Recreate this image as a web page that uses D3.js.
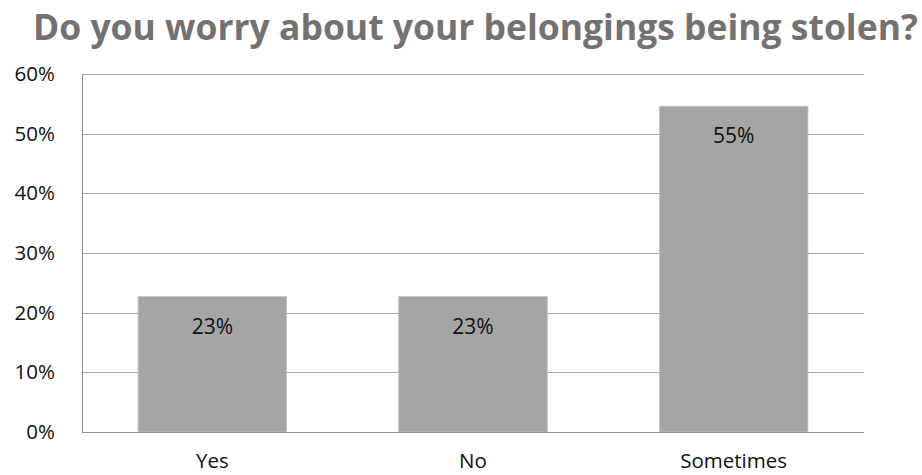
<!DOCTYPE html>
<html><head><meta charset="utf-8">
<script src="https://cdn.jsdelivr.net/npm/d3@7"></script>
<style>body{margin:0;background:#fff}svg{display:block}text{font-family:"Open Sans",sans-serif}</style>
</head><body>
<svg id="c" width="922" height="475"></svg>
<script>
const title = "Do you worry about your belongings being stolen?";
const categories = ["Yes", "No", "Sometimes"];
const values = [0.227, 0.227, 0.546];
const valueLabels = ["23%", "23%", "55%"];
const yTicks = [0, 0.1, 0.2, 0.3, 0.4, 0.5, 0.6];

const svg = d3.select("#c");
const m = {left: 82, right: 864, top: 74, bottom: 432};
const x = d3.scaleBand().domain(categories).range([m.left, m.right]).paddingInner(0.43).paddingOuter(0.215);
const y = d3.scaleLinear().domain([0, 0.6]).range([m.bottom, m.top]);

// gridlines
svg.append("g").selectAll("line").data(yTicks.slice(1)).join("line")
  .attr("x1", m.left).attr("x2", m.right)
  .attr("y1", d => Math.round(y(d)) + 0.5).attr("y2", d => Math.round(y(d)) + 0.5)
  .attr("stroke", "#a6a6a6").attr("stroke-width", 1);

// bars
svg.append("g").selectAll("rect").data(values).join("rect")
  .attr("x", (d, i) => x(categories[i]))
  .attr("y", d => y(d))
  .attr("width", x.bandwidth())
  .attr("height", d => y(0) - y(d))
  .attr("fill", "#a5a5a5")
  .attr("stroke", "#c4c4c4").attr("stroke-width", 0.8);

// value labels
svg.append("g").selectAll("text").data(values).join("text")
  .attr("x", (d, i) => x(categories[i]) + x.bandwidth() / 2)
  .attr("y", d => y(d) + 37)
  .attr("text-anchor", "middle")
  .attr("font-size", 21).attr("fill", "#111")
  .text((d, i) => valueLabels[i]);

// axes lines
svg.append("line").attr("x1", m.left + 0.5).attr("x2", m.left + 0.5).attr("y1", m.top).attr("y2", m.bottom)
  .attr("stroke", "#8c8c8c");
svg.append("line").attr("x1", m.left).attr("x2", m.right).attr("y1", m.bottom + 0.5).attr("y2", m.bottom + 0.5)
  .attr("stroke", "#8c8c8c");

// y tick labels
svg.append("g").selectAll("text").data(yTicks).join("text")
  .attr("x", 55).attr("y", d => y(d) + 7)
  .attr("text-anchor", "end").attr("font-size", 20.5).attr("fill", "#111")
  .text(d3.format(".0%"));

// x labels
svg.append("g").selectAll("text").data(categories).join("text")
  .attr("x", d => x(d) + x.bandwidth() / 2).attr("y", 468)
  .attr("text-anchor", "middle").attr("font-size", 20.5).attr("fill", "#111")
  .text(d => d);

// title
const t = svg.append("text").attr("x", 33).attr("y", 40).attr("text-anchor", "start")
  .attr("font-size", 28).attr("font-weight", "bold").attr("fill", "#767171").text(title);
const w = t.node().getComputedTextLength();
t.attr("font-size", 28 * 885 / w);
</script>
</body></html>
